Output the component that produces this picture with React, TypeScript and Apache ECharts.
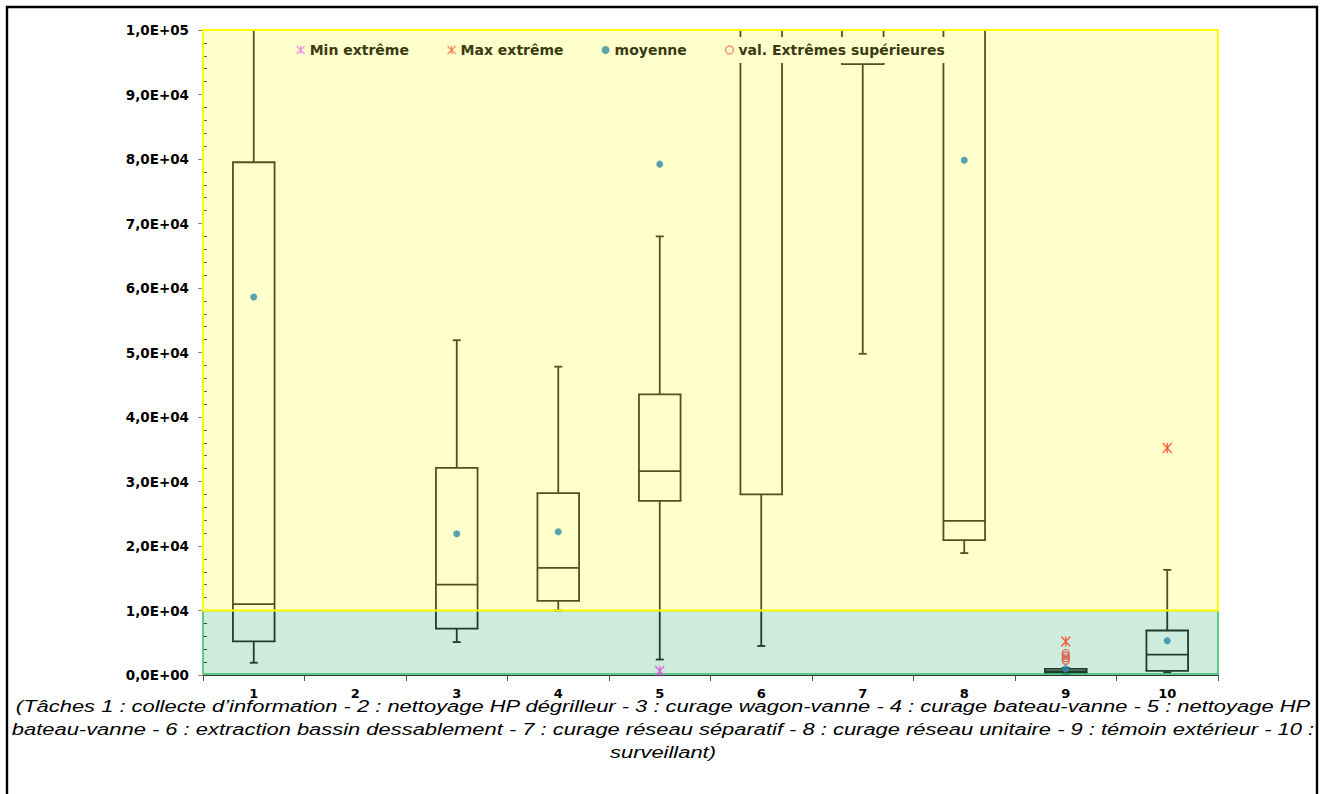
import React, { useEffect, useRef } from 'react';
import * as echarts from 'echarts';

// ---- data ----
const categories = ['1', '2', '3', '4', '5', '6', '7', '8', '9', '10'];
const boxMin = [1900, null, 5100, 10000, 2400, 4500, 49800, 18900, 150, 400];
const boxQ1 = [5200, null, 7200, 11500, 27000, 28000, 94700, 20900, 350, 650];
const boxMedian = [11000, null, 14000, 16600, 31600, 115000, 110000, 23900, 600, 3150];
const boxQ3 = [79500, null, 32100, 28200, 43500, 130000, 125000, 130000, 950, 6900];
const boxMax = [115000, null, 51900, 47800, 68000, 150000, 140000, 150000, 1100, 16300];
const meanValues = [58600, null, 21900, 22200, 79200, null, null, 79800, 950, 5300];
const minExtreme = [null, null, null, null, 620, null, null, null, null, null];
const maxExtreme = [null, null, null, null, null, null, null, null, 5200, 35200];
const outlierCategories = ['9', '9', '9', '9'];
const outlierValues = [3400, 3000, 2600, 2200];
const bandFrom = [0, 10000];
const bandTo = [10000, 100000];
const yTickInterval = 10000;
const yMax = 100000;

const captionLines = [
  '(Tâches 1 : collecte d\u2019information - 2 : nettoyage HP dégrilleur - 3 : curage wagon-vanne - 4 : curage bateau-vanne - 5 : nettoyage HP',
  'bateau-vanne - 6 : extraction bassin dessablement - 7 : curage réseau séparatif - 8 : curage réseau unitaire - 9 : témoin extérieur - 10 :',
  'surveillant)',
];

const STAR = 'path://M0,0L10,10M10,0L0,10M5,0L5,10';

const bandStyles = [
  { fill: 'rgba(97,194,145,0.31)', stroke: '#2fbf6a', lw: 1.5, inset: 1 },
  { fill: 'rgba(255,255,96,0.32)', stroke: '#ffff00', lw: 2, inset: 0 },
];

function sciLabel(v: number) {
  if (v === 0) return '0,0E+00';
  const e = Math.floor(Math.log10(v) + 1e-9);
  const m = v / Math.pow(10, e);
  return m.toFixed(1).replace('.', ',') + 'E+' + String(e).padStart(2, '0');
}

function renderBox(params: any, api: any) {
  const cs = params.coordSys;
  const top = cs.y;
  const bottom = cs.y + cs.height;
  const idx = api.value(0);
  const x = api.coord([idx, 0])[0];
  const half = (api.size([1, 0])[0] * 0.41) / 2;
  const cap = 4;
  const py = (v: number) => api.coord([idx, v])[1];
  const pMin = py(api.value(1));
  const pQ1 = py(api.value(2));
  const pMed = py(api.value(3));
  const pQ3 = py(api.value(4));
  const pMax = py(api.value(5));
  const clamp = (y: number) => Math.max(top, Math.min(bottom, y));
  const inside = (y: number) => y >= top - 0.5 && y <= bottom + 0.5;
  const children: any[] = [];
  const line = (x1: number, y1: number, x2: number, y2: number) =>
    children.push({ type: 'line', shape: { x1, y1, x2, y2 }, style: { stroke: '#000', lineWidth: 1.8 } });
  line(x, clamp(pQ1), x, clamp(pMin));
  if (inside(pMin)) line(x - cap, pMin, x + cap, pMin);
  if (pQ3 > top) line(x, clamp(pMax), x, clamp(pQ3));
  if (inside(pMax)) line(x - cap, pMax, x + cap, pMax);
  line(x - half, clamp(pQ3), x - half, clamp(pQ1));
  line(x + half, clamp(pQ3), x + half, clamp(pQ1));
  if (inside(pQ1)) line(x - half - 0.9, pQ1, x + half + 0.9, pQ1);
  if (inside(pQ3)) line(x - half - 0.9, pQ3, x + half + 0.9, pQ3);
  if (inside(pMed)) line(x - half, pMed, x + half, pMed);
  return { type: 'group', children };
}

function renderBand(params: any, api: any) {
  const cs = params.coordSys;
  const yLo = api.coord([0, api.value(1)])[1];
  const yHi = api.coord([0, api.value(2)])[1];
  const st = bandStyles[params.dataIndex];
  return {
    type: 'group',
    children: [
      { type: 'rect', shape: { x: cs.x, y: yHi, width: cs.width, height: yLo - yHi }, style: { fill: st.fill } },
      {
        type: 'rect',
        shape: { x: cs.x, y: yHi, width: cs.width, height: yLo - yHi - st.inset },
        style: { fill: 'none', stroke: st.stroke, lineWidth: st.lw },
      },
    ],
  };
}

export default function App() {
  const ref = useRef<HTMLDivElement>(null);
  useEffect(() => {
    const chart = echarts.init(ref.current!, null, { renderer: 'svg' });

    const boxData = categories
      .map((c, i) => (boxMin[i] == null ? null : [i, boxMin[i], boxQ1[i], boxMedian[i], boxQ3[i], boxMax[i]]))
      .filter(Boolean);
    const bandData = bandFrom.map((f, i) => [0, f, bandTo[i]]);
    const pairs = (arr: (number | null)[]) =>
      categories.map((c, i) => (arr[i] == null ? null : [c, arr[i]])).filter(Boolean);
    const outlierData = outlierCategories.map((c, i) => [c, outlierValues[i]]);

    const bold = { fontFamily: 'DejaVu Sans', fontWeight: 'bold' as const };

    chart.setOption({
      animation: false,
      backgroundColor: '#ffffff',
      grid: { left: 203, top: 30, right: 106, bottom: 119, containLabel: false },
      legend: {
        left: 288,
        top: 37,
        padding: [5, 8, 5, 8],
        itemGap: 38,
        itemWidth: 8,
        itemHeight: 9,
        backgroundColor: '#ffffcc',
        selectedMode: false,
        z: 20,
        textStyle: { ...bold, fontSize: 14, color: '#3a3a12', lineHeight: 16 },
        data: [
          { name: 'Min extrême', icon: STAR, itemStyle: { color: 'transparent', borderColor: '#ee77ee', borderWidth: 1.3 } },
          { name: 'Max extrême', icon: STAR, itemStyle: { color: 'transparent', borderColor: '#ff6a44', borderWidth: 1.3 } },
          { name: 'moyenne', icon: 'circle', itemStyle: { color: '#338ea3' } },
          { name: 'val. Extrêmes supérieures', icon: 'circle', itemStyle: { color: 'transparent', borderColor: '#ff6a50', borderWidth: 1.3 } },
        ],
      },
      xAxis: {
        type: 'category',
        data: categories,
        boundaryGap: true,
        axisLine: { show: true, lineStyle: { color: '#333', width: 1 } },
        axisTick: { show: true, length: 6, lineStyle: { color: '#555' } },
        axisLabel: { ...bold, fontSize: 13, color: '#000', margin: 12 },
        splitLine: { show: false },
      },
      yAxis: [
        {
          type: 'value',
          min: 0,
          max: yMax,
          interval: yTickInterval,
          axisLine: { show: false },
          axisTick: { show: true, length: 5, lineStyle: { color: '#888' } },
          splitLine: { show: false },
          axisLabel: { ...bold, fontSize: 13.5, color: '#000', margin: 14, formatter: (v: number) => sciLabel(v) },
        },
        {
          type: 'value',
          min: 0,
          max: yMax,
          interval: yTickInterval,
          position: 'left',
          axisLine: { show: false },
          axisLabel: { show: false },
          axisTick: { show: false, inside: true },
          minorTick: { show: true, splitNumber: 5, length: 4, lineStyle: { color: '#222' } },
          splitLine: { show: false },
          minorSplitLine: { show: false },
        },
      ],
      series: [
        {
          type: 'custom',
          name: 'boxes',
          z: 2,
          silent: true,
          dimensions: ['cat', 'min', 'q1', 'med', 'q3', 'max'],
          encode: { x: 0, y: [1, 2, 3, 4, 5] },
          renderItem: renderBox,
          data: boxData,
        },
        {
          type: 'custom',
          name: 'bands',
          z: 5,
          silent: true,
          encode: { x: 0, y: [1, 2] },
          renderItem: renderBand,
          data: bandData,
        },
        {
          type: 'scatter',
          name: 'Min extrême',
          z: 10,
          symbol: STAR,
          symbolSize: [9, 10],
          itemStyle: { color: 'transparent', borderColor: '#e040e0', borderWidth: 1.4 },
          data: pairs(minExtreme),
        },
        {
          type: 'scatter',
          name: 'Max extrême',
          z: 10,
          symbol: STAR,
          symbolSize: [9, 10],
          itemStyle: { color: 'transparent', borderColor: '#ff3311', borderWidth: 1.4 },
          data: pairs(maxExtreme),
        },
        {
          type: 'scatter',
          name: 'moyenne',
          z: 10,
          symbol: 'circle',
          symbolSize: 7,
          itemStyle: { color: '#2c8aa6' },
          data: pairs(meanValues),
        },
        {
          type: 'scatter',
          name: 'val. Extrêmes supérieures',
          z: 10,
          symbol: 'circle',
          symbolSize: 7,
          itemStyle: { color: 'transparent', borderColor: '#e04a3a', borderWidth: 1.3 },
          data: outlierData,
        },
      ],
      graphic: [
        {
          type: 'rect',
          z: 15,
          silent: true,
          shape: { x: 288, y: 37, width: 670, height: 26 },
          style: { fill: '#ffffcc' },
        },
        {
          type: 'rect',
          z: 100,
          silent: true,
          shape: { x: 7, y: 7, width: 1310, height: 800 },
          style: { fill: 'none', stroke: '#000', lineWidth: 2.4 },
        },
        {
          type: 'text',
          z: 100,
          silent: true,
          x: 663,
          y: 694.5,
          scaleX: 1.29,
          style: {
            text: captionLines.join('\n'),
            textAlign: 'center',
            textVerticalAlign: 'top',
            fontFamily: 'Liberation Sans',
            fontStyle: 'italic',
            fontSize: 17,
            lineHeight: 23,
            fill: '#000',
          },
        },
      ],
    });
    return () => chart.dispose();
  }, []);
  return (
    <div
      ref={ref}
      style={{ position: 'fixed', left: 0, top: 0, width: 1324, height: 794, background: '#fff' }}
    />
  );
}
